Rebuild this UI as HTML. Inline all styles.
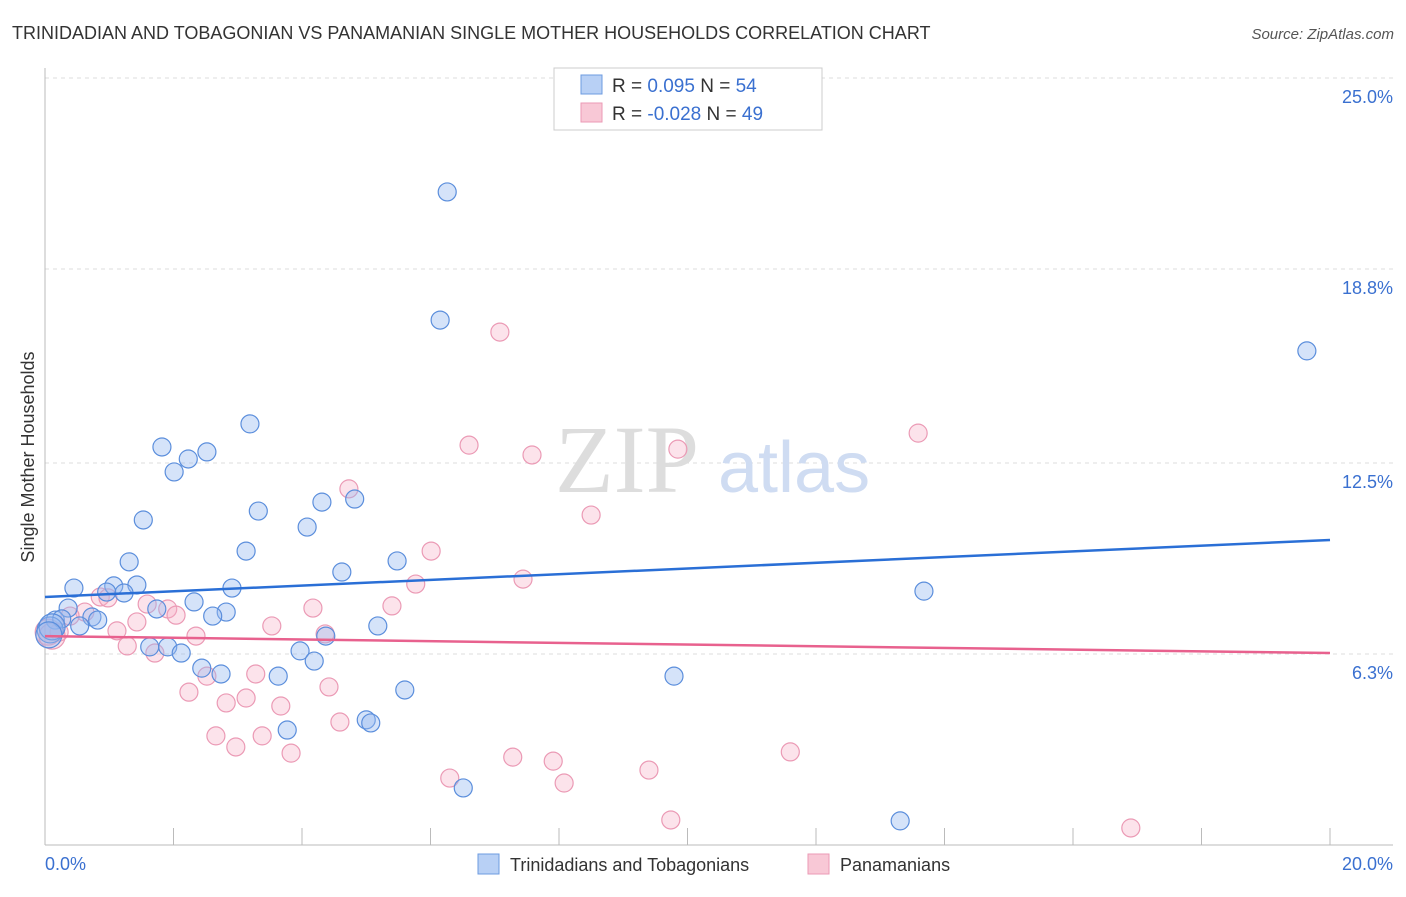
<!DOCTYPE html>
<html><head><meta charset="utf-8"><style>
body{margin:0;background:#fff;font-family:"Liberation Sans",sans-serif;}
</style></head><body>
<svg width="1406" height="892" viewBox="0 0 1406 892" xmlns="http://www.w3.org/2000/svg">
<text x="12" y="39" font-size="18" fill="#333">TRINIDADIAN AND TOBAGONIAN VS PANAMANIAN SINGLE MOTHER HOUSEHOLDS CORRELATION CHART</text>
<text x="1394" y="39" font-size="15" fill="#555" font-style="italic" text-anchor="end">Source: ZipAtlas.com</text>
<g id="grid"></g>
<line x1="45" y1="68" x2="45" y2="845" stroke="#bbb"/>
<line x1="45" y1="845" x2="1393" y2="845" stroke="#bbb"/>
<text x="555" y="492" font-size="96" fill="#ddd" font-family="Liberation Serif,serif">ZIP</text>
<text x="718" y="492" font-size="72" fill="#cfdcf2">atlas</text>
<g id="pts"></g>
<g id="lines"></g>
<text transform="translate(34,457) rotate(-90)" font-size="18" fill="#333" text-anchor="middle">Single Mother Households</text>
<text x="45" y="870" font-size="18" fill="#3a70d0">0.0%</text>
<text x="1393" y="870" font-size="18" fill="#3a70d0" text-anchor="end">20.0%</text>
<g>
<rect x="554" y="68" width="268" height="62" fill="#fff" stroke="#ccc"/>
<rect x="581" y="75" width="21" height="19" fill="#b8d0f5" stroke="#6d9be0"/>
<rect x="581" y="103" width="21" height="19" fill="#f8c8d6" stroke="#eb9ab5"/>
<text x="612" y="92" font-size="19" fill="#333">R = <tspan fill="#3a70d0"> 0.095</tspan>   N = <tspan fill="#3a70d0">54</tspan></text>
<text x="612" y="120" font-size="19" fill="#333">R = <tspan fill="#3a70d0">-0.028</tspan>   N = <tspan fill="#3a70d0">49</tspan></text>
</g>
<g>
<rect x="478" y="854" width="21" height="20" fill="#b8d0f5" stroke="#6d9be0"/>
<text x="510" y="871" font-size="18" fill="#333">Trinidadians and Tobagonians</text>
<rect x="808" y="854" width="21" height="20" fill="#f8c8d6" stroke="#eb9ab5"/>
<text x="840" y="871" font-size="18" fill="#333">Panamanians</text>
</g>
</svg>
<script>
const yTicks=[25.0,18.8,12.5,6.3];
const yTickLabels=["25.0%","18.8%","12.5%","6.3%"];
const xTickVals=[0,2,4,6,8,10,12,14,16,18,20];
const blueX=[6.26,6.15,19.64,3.19,1.82,2.52,2.23,2.01,1.53,3.32,4.31,4.82,4.08,3.13,1.31,5.48,4.62,0.45,1.43,1.07,2.91,0.96,1.23,13.68,2.32,1.74,2.82,2.61,0.36,0.16,0.73,0.82,0.26,0.54,0.08,5.18,4.37,1.63,1.91,2.12,3.97,4.19,2.44,2.74,3.63,9.79,5.60,5.00,5.07,3.77,6.51,13.31,0.11,0.06];
const blueY=[21.30,17.14,16.14,13.77,13.02,12.86,12.63,12.21,10.65,10.94,11.23,11.33,10.42,9.64,9.29,9.32,8.96,8.44,8.54,8.51,8.44,8.31,8.28,8.34,7.99,7.76,7.66,7.53,7.79,7.40,7.50,7.40,7.44,7.21,7.08,7.21,6.88,6.53,6.53,6.33,6.40,6.07,5.84,5.65,5.58,5.58,5.13,4.16,4.06,3.83,1.95,0.88,7.18,6.92];
const pinkX=[7.08,13.59,6.60,9.85,7.58,4.73,8.50,6.01,7.44,5.77,0.86,0.98,1.59,4.17,1.91,5.40,2.04,0.62,0.39,1.43,3.53,1.12,4.36,2.35,0.22,1.28,1.71,2.52,3.28,4.42,2.24,3.13,2.82,3.67,4.59,2.66,3.38,2.97,3.83,11.60,7.28,7.91,6.30,9.40,8.08,9.74,16.90,0.05,0.11];
const pinkY=[16.75,13.47,13.08,12.95,12.76,11.66,10.81,9.64,8.73,8.57,8.15,8.12,7.92,7.79,7.76,7.86,7.56,7.66,7.53,7.34,7.21,7.05,6.95,6.88,7.01,6.56,6.33,5.58,5.65,5.23,5.06,4.87,4.71,4.61,4.09,3.64,3.64,3.28,3.08,3.12,2.95,2.82,2.27,2.53,2.11,0.91,0.65,7.01,6.88];
const blueTrend=[8.15,10.0];
const pinkTrend=[6.88,6.33];
const NS="http://www.w3.org/2000/svg";
const X=v=>45+v*64.25, Y=v=>848-v*30.8;
function mk(tag,attrs,parent){const e=document.createElementNS(NS,tag);for(const k in attrs)e.setAttribute(k,attrs[k]);parent.appendChild(e);return e;}
const grid=document.getElementById('grid');
yTicks.forEach((t,i)=>{
 const l=mk('line',{x1:45,x2:1393,y1:Y(t),y2:Y(t),stroke:'#ddd','stroke-dasharray':'4,4'},grid);
 
 
 const tx=mk('text',{x:1393,y:Y(t)+25,'font-size':18,fill:'#3a70d0','text-anchor':'end'},grid);
 tx.textContent=yTickLabels[i];
 
 
});
xTickVals.forEach(v=>{
 const l=mk('line',{x1:X(v),x2:X(v),y1:828,y2:845,stroke:'#bbb'},grid);
 
 
});
const pts=document.getElementById('pts');
function dots(xs,ys,fill,stroke,name){xs.forEach((x,i)=>{
 const big=(x<0.12);
 const c=mk('circle',{cx:X(x),cy:Y(ys[i]),r:big?13:9,fill:fill,stroke:stroke,'stroke-width':1.2},pts);
 
 
});}
dots(pinkX,pinkY,'rgba(245,175,198,0.35)','#eb9ab5','panamanian-point');
dots(blueX,blueY,'rgba(150,185,240,0.4)','#5b8edc','trinidadian-point');
const lines=document.getElementById('lines');
const bl=mk('line',{x1:X(0),y1:Y(blueTrend[0]),x2:X(20),y2:Y(blueTrend[1]),stroke:'#2a6fd6','stroke-width':2.5},lines);


const pl=mk('line',{x1:X(0),y1:Y(pinkTrend[0]),x2:X(20),y2:Y(pinkTrend[1]),stroke:'#e8618e','stroke-width':2.5},lines);


</script>
</body></html>
